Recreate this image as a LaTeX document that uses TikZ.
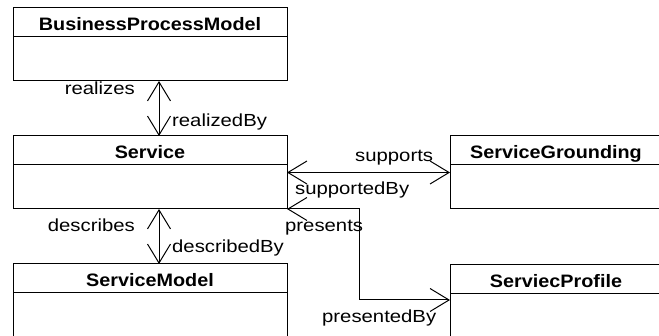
\documentclass[tikz,border=0pt]{standalone}
\usepackage{fontspec}
\setmainfont{Liberation Sans}
\newfontfamily\lblfont{Liberation Sans}[FakeStretch=1.16]
\newfontfamily\ttlfont{Liberation Sans}[FakeStretch=1.1]
\usetikzlibrary{arrows.meta}
\begin{document}
\begin{tikzpicture}[x=1pt,y=-1pt,
  cls/.style={draw, line width=1pt, rectangle, inner sep=0pt, outer sep=0pt},
  ttl/.style={anchor=base, inner sep=0pt, font=\ttlfont\bfseries\fontsize{18}{20}\selectfont},
  lbl/.style={inner sep=0pt, font=\lblfont\fontsize{17.5}{20}\selectfont},
  tip/.style={},
  assoc/.style={line width=1pt,
    {Straight Barb[length=19pt,width=23pt,line width=1pt]}-{Straight Barb[length=19pt,width=23pt,line width=1pt]}}]
\useasboundingbox (0,0) rectangle (659,336);
\clip (0,0) rectangle (659,336);
% classes
\node[cls, minimum width=274pt, minimum height=73pt] (bpm) at (150,44.5) {};
\node[cls, minimum width=274pt, minimum height=73pt] (svc) at (150,172.5) {};
\node[cls, minimum width=274pt, minimum height=80pt] (sm) at (150,304) {};
\node[cls, minimum width=212pt, minimum height=73pt] (sg) at (556,172.5) {};
\node[cls, minimum width=212pt, minimum height=80pt] (sp) at (556,305) {};
% titles
\node[ttl] (tbpm) at ([yshift=-23pt]bpm.north) {BusinessProcessModel};
\node[ttl] (tsvc) at ([yshift=-22.5pt]svc.north) {Service};
\node[ttl] (tsm) at ([yshift=-22.5pt]sm.north) {ServiceModel};
\node[ttl] (tsg) at ([yshift=-22.5pt]sg.north) {ServiceGrounding};
\node[ttl] (tsp) at ([yshift=-22.5pt]sp.north) {ServiecProfile};
% dividers
\foreach \n in {bpm,svc,sm,sg,sp}
  \draw[line width=1pt] ([yshift=-29pt]\n.north west) -- ([yshift=-29pt]\n.north east);
% associations
\draw[assoc] ([xshift=9pt]bpm.south) -- ([xshift=9pt]svc.north);
\draw[assoc] ([xshift=9pt]svc.south) -- ([xshift=9pt]sm.north);
\draw[assoc] (svc.east) -- (sg.west);
\draw[assoc] (svc.south east) -- ++(72,0) |- ([yshift=5pt]sp.west);
% role labels
\node[lbl, anchor=base east] (l1) at (135,95) {realizes};
\node[lbl, anchor=base west] (l2) at (172,127) {realizedBy};
\node[lbl, anchor=base east] (l3) at (135,232) {describes};
\node[lbl, anchor=base west] (l4) at (172,253) {describedBy};
\node[lbl, anchor=base west] (l5) at (355,162) {supports};
\node[lbl, anchor=base west] (l6) at (295,195) {supportedBy};
\node[lbl, anchor=base west] (l7) at (285,232) {presents};
\node[lbl, anchor=base west] (l8) at (322,323) {presentedBy};
\end{tikzpicture}
\end{document}
